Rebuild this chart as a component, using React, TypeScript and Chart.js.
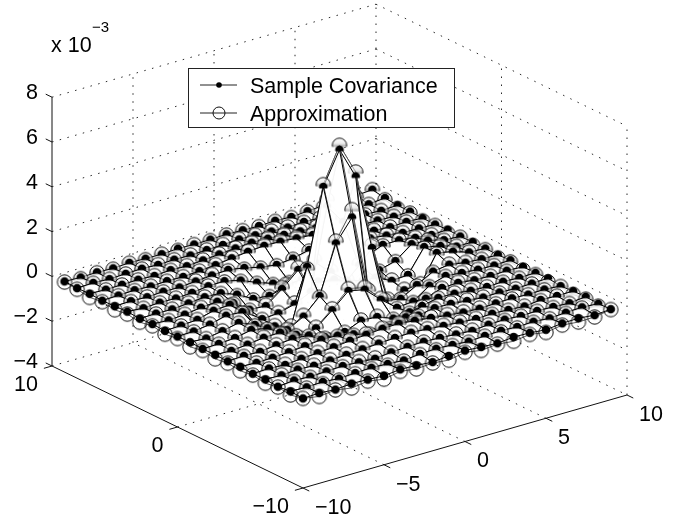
import React, { useEffect, useRef } from "react";
import { Chart, registerables } from "chart.js";

Chart.register(...registerables);

const gridX = [-10,-9,-8,-7,-6,-5,-4,-3,-2,-1,0,1,2,3,4,5,6,7,8,9];
const gridY = [-10,-9,-8,-7,-6,-5,-4,-3,-2,-1,0,1,2,3,4,5,6,7,8,9];
const xTicks = [-10,-5,0,5,10];
const yTicks = [-10,0,10];
const zTicks = [-4,-2,0,2,4,6,8];
const sampleLabel = "Sample Covariance";
const approxLabel = "Approximation";

// rows: y = -10 ... 9, columns: x = -10 ... 9 (units of 10^-3)
const sampleZ = [
[0,.03,-.02,.04,.01,-.03,.05,.02,-.04,.03,.06,.01,-.03,.04,.02,-.05,.03,.05,-.02,.04],
[.04,.02,.05,-.01,.03,.06,.02,-.03,.05,.08,.04,-.02,.03,.05,.01,.04,-.02,.03,.06,.01],
[-.02,.05,.01,.04,.07,.03,-.02,.06,.1,.12,.08,.03,-.02,.05,.07,.02,.04,.01,-.03,.05],
[.03,.01,.06,.02,.05,.09,.13,.18,.22,.25,.2,.14,.08,.03,.06,.02,-.03,.05,.02,.03],
[.01,.04,-.01,.06,.1,.16,.24,.3,.36,.38,.3,.22,.12,.05,.01,.04,.06,.02,.04,-.02],
[.05,.02,.04,.08,.14,.22,.2,.05,-.12,-.2,-.1,.06,.18,.16,.08,.03,.05,.01,.03,.06],
[.02,.06,.03,.12,.2,.14,-.15,-.45,-.62,-.68,-.55,-.3,0,.16,.14,.06,.02,.05,.01,.03],
[.04,.01,.08,.18,.2,-.1,-.5,-.72,-.6,-.3,-.35,-.62,-.55,-.15,.12,.14,.05,.03,.06,.02],
[.03,.05,.1,.25,.12,-.3,-.7,-.5,.1,.75,.6,-.05,-.62,-.55,-.05,.18,.1,.04,.02,.05],
[.06,.02,.14,.3,0,-.5,-.65,-.25,.46,2.6,3.55,-.1,-.6,-.7,-.3,.1,.2,.08,.03,.01],
[.04,.06,.16,.35,.3,-.6,-.75,-1,1.5,4.85,6.3,4.9,1.5,-1.1,-.8,-.77,.45,.3,.06,.03],
[.02,.05,.1,.3,.35,-.2,-.7,-.65,-.45,-.1,3.5,2.6,.46,-.3,-.65,-.6,.44,.28,.05,.04],
[.05,.01,.06,.16,.22,-.05,-.55,-.6,-.05,.6,.75,.1,-.5,-.7,-.45,-.25,.3,.25,.06,.02],
[.02,.04,.02,.08,.15,.12,-.15,-.55,-.62,-.35,-.3,-.6,-.72,-.5,-.1,.2,.2,.1,.02,.05],
[.06,.01,.05,.03,.07,.16,.18,0,-.3,-.55,-.68,-.62,-.45,-.15,.14,.22,.14,.05,.04,.01],
[.03,.05,.02,.06,.04,.1,.16,.2,.08,-.1,-.2,-.12,.05,.2,.24,.16,.08,.03,.06,.02],
[.01,.03,.06,.02,.05,.03,.08,.14,.24,.32,.38,.36,.3,.24,.14,.1,.05,.06,.02,.04],
[.04,.02,.03,.05,.01,.06,.03,.08,.14,.2,.25,.22,.18,.13,.09,.05,.03,.06,.01,.05],
[.02,.05,.01,.04,.06,.02,.05,.03,.06,.08,.12,.1,.06,.03,.07,.04,.01,.05,.03,.1],
[.05,.02,.04,.01,.05,.03,.02,.06,.04,.05,.08,.05,.03,.06,.02,.07,.12,.1,.15,.2],
];

const approxZ = [
[0,-.12,-.04,-.16,-.06,-.18,-.04,-.14,-.08,-.16,-.02,-.14,-.07,-.15,-.05,-.17,-.05,-.12,-.1,.02],
[-.12,-.02,-.03,-.08,0,.02,-.04,-.06,.02,.03,.01,-.05,.01,0,-.03,.01,-.04,-.01,.02,-.1],
[-.04,.01,-.02,.02,.04,.06,.02,.05,.08,.1,.06,.05,.01,.04,.03,.01,.02,-.02,-.05,-.06],
[-.14,.03,.02,.04,.08,.12,.16,.2,.24,.26,.22,.16,.1,.05,.03,0,-.02,.02,.01,-.12],
[-.05,.02,.02,.06,.13,.2,.28,.34,.38,.4,.34,.26,.16,.08,.04,.02,.03,.01,.02,-.04],
[-.13,.01,.03,.1,.18,.24,.16,0,-.16,-.24,-.14,.02,.16,.2,.12,.05,.02,0,.01,-.11],
[-.06,.03,.05,.14,.22,.1,-.2,-.5,-.68,-.72,-.6,-.34,-.04,.14,.17,.08,.03,.02,-.01,-.05],
[-.14,0,.09,.2,.16,-.15,-.55,-.76,-.62,-.28,-.32,-.66,-.6,-.2,.1,.16,.07,.02,.03,-.12],
[-.04,.03,.12,.24,.08,-.35,-.72,-.46,.16,.85,.7,0,-.66,-.6,-.1,.15,.12,.05,.01,-.03],
[-.15,.01,.15,.28,-.04,-.54,-.62,-.2,.4,2.7,3.9,.1,-.55,-.72,-.34,.06,.22,.09,.02,-.12],
[-.05,.04,.17,.32,.26,-.64,-.72,-.95,1.4,4.95,6.5,5.1,1.65,-1,-.76,-.72,.4,.32,.07,-.03],
[-.13,.03,.11,.28,.32,-.24,-.72,-.62,-.4,.05,3.8,2.75,.52,-.25,-.62,-.64,.4,.3,.06,-.11],
[-.03,0,.07,.17,.2,-.1,-.58,-.56,.02,.7,.85,.16,-.46,-.72,-.5,-.28,.26,.27,.05,-.02],
[-.14,.02,.03,.09,.16,.1,-.2,-.6,-.66,-.32,-.28,-.62,-.76,-.55,-.15,.16,.22,.11,.03,-.12],
[-.05,0,.04,.04,.08,.17,.14,-.04,-.34,-.6,-.72,-.68,-.5,-.2,.1,.22,.16,.06,.03,-.04],
[-.13,.03,.03,.05,.05,.12,.2,.16,.02,-.14,-.24,-.16,0,.16,.24,.18,.1,.04,.05,-.1],
[-.04,.02,.04,.03,.04,.04,.08,.16,.26,.34,.4,.38,.34,.28,.2,.13,.06,.05,.03,-.03],
[-.12,.01,.02,.04,.02,.05,.05,.1,.16,.22,.26,.24,.2,.16,.12,.08,.04,.04,.02,-.1],
[-.03,.03,0,.03,.04,.03,.04,.05,.07,.1,.13,.1,.08,.05,.05,.03,.02,.03,.02,.02],
[.02,-.04,.02,-.03,.03,-.02,.02,-.02,.03,0,.04,.03,0,.03,-.01,.04,.06,.06,.08,.2],
];

// view of the 3-D box onto the page plane
const view = { ox: 303, oy: 488, xx: 16.2, xy: -4.65, yx: -12.55, yy: -6.1, zy: 22.4 };
const project = (x: number, y: number, z: number) => ({
  x: view.ox + (x + 10) * view.xx + (y + 10) * view.yx,
  y: view.oy + (x + 10) * view.xy + (y + 10) * view.yy - (z + 4) * view.zy,
});

const FONT = '"Liberation Sans", Arial, sans-serif';
const FONT_SIZE = 21.5;
const PATCH_FILL = "rgba(255,255,255,0.8)";

// Markers poke half-way through the surface: the part below the centre is hidden.
function dotSprite(half: boolean) {
  const c = document.createElement("canvas");
  c.width = 12;
  c.height = 12;
  const g = c.getContext("2d") as CanvasRenderingContext2D;
  if (half) {
    g.beginPath();
    g.rect(0, 0, 12, 7.5);
    g.clip();
  }
  g.fillStyle = "#000";
  g.beginPath();
  g.arc(6, 6, 4.3, 0, Math.PI * 2);
  g.fill();
  return c;
}

function ringSprite(half: boolean) {
  const c = document.createElement("canvas");
  c.width = 18;
  c.height = 18;
  const g = c.getContext("2d") as CanvasRenderingContext2D;
  if (half) {
    g.beginPath();
    g.rect(0, 0, 18, 10.5);
    g.clip();
    const grad = g.createLinearGradient(0, 2, 0, 10.5);
    grad.addColorStop(0, "rgba(255,255,255,0.6)");
    grad.addColorStop(0.6, "rgba(225,225,225,0.6)");
    grad.addColorStop(1, "rgba(110,110,110,0.65)");
    g.fillStyle = grad;
    g.beginPath();
    g.arc(9, 9, 7, 0, Math.PI * 2);
    g.fill();
  }
  g.strokeStyle = "#111";
  g.lineWidth = 1;
  g.beginPath();
  g.arc(9, 9, 7.2, 0, Math.PI * 2);
  g.stroke();
  return c;
}

function buildDatasets() {
  const dotHalf = dotSprite(true);
  const dotFull = dotSprite(false);
  const ringHalf = ringSprite(true);
  const ringFull = ringSprite(false);

  const cells: { i: number; j: number }[] = [];
  for (let j = 0; j < gridY.length - 1; j++) for (let i = 0; i < gridX.length - 1; i++) cells.push({ i, j });
  cells.sort((a, b) => b.i + b.j - (a.i + a.j) || a.i - b.i);

  const total = cells.length * 2 + 4;
  const sets: any[] = [];
  const cell = (z: number[][], i: number, j: number) => {
    const P = (a: number, b: number) => project(gridX[a], gridY[b], z[b][a]);
    return [P(i, j), P(i + 1, j), P(i + 1, j + 1), P(i, j + 1), P(i, j)];
  };
  const radii = [0, 0, 7, 0, 0];
  cells.forEach(({ i, j }, k) => {
    sets.push({
      data: cell(approxZ, i, j),
      showLine: true,
      fill: "shape",
      backgroundColor: PATCH_FILL,
      borderColor: "#5a5a5a",
      borderWidth: 1,
      tension: 0,
      order: total - 2 * k,
      pointRadius: radii,
      pointStyle: ringHalf,
    });
    sets.push({
      data: cell(sampleZ, i, j),
      showLine: true,
      fill: "shape",
      backgroundColor: PATCH_FILL,
      borderColor: "#000",
      borderWidth: 1,
      tension: 0,
      order: total - 2 * k - 1,
      pointRadius: radii,
      pointStyle: dotHalf,
    });
  });

  // the two near edges have no surface in front of them: whole markers
  const edge = (z: number[][]) => {
    const pts: { x: number; y: number }[] = [];
    gridX.forEach((x, i) => pts.push(project(x, gridY[0], z[0][i])));
    gridY.forEach((y, j) => {
      if (j > 0) pts.push(project(gridX[0], y, z[j][0]));
    });
    return pts;
  };
  sets.push({ data: edge(approxZ), showLine: false, order: 1, pointRadius: 7, pointStyle: ringFull });
  sets.push({ data: edge(sampleZ), showLine: false, order: 0, pointRadius: 4, pointStyle: dotFull });
  return sets;
}

const boxPlugin = {
  id: "box3d",
  beforeDatasetsDraw(chart: any) {
    const { ctx, scales } = chart;
    const px = (p: { x: number; y: number }) => ({ x: scales.x.getPixelForValue(p.x), y: scales.y.getPixelForValue(p.y) });
    const seg = (a: number[], b: number[]) => {
      const p = px(project(a[0], a[1], a[2]));
      const q = px(project(b[0], b[1], b[2]));
      ctx.beginPath();
      ctx.moveTo(p.x, p.y);
      ctx.lineTo(q.x, q.y);
      ctx.stroke();
    };
    ctx.save();
    // dotted grid
    ctx.strokeStyle = "#2a2a2a";
    ctx.lineWidth = 1;
    ctx.setLineDash([1.5, 6.5]);
    zTicks.forEach((z) => {
      seg([-10, 10, z], [10, 10, z]);
      seg([10, 10, z], [10, -10, z]);
    });
    xTicks.forEach((x) => {
      if (x > -10) seg([x, 10, -4], [x, 10, 8]);
      if (x > -10 && x < 10) seg([x, -10, -4], [x, 10, -4]);
    });
    yTicks.forEach((y) => {
      if (y < 10) seg([10, y, -4], [10, y, 8]);
      if (y > -10 && y < 10) seg([-10, y, -4], [10, y, -4]);
    });
    // solid axes and ticks
    ctx.setLineDash([]);
    ctx.strokeStyle = "#111";
    seg([-10, 10, -4], [-10, 10, 8]);
    seg([-10, -10, -4], [10, -10, -4]);
    seg([-10, -10, -4], [-10, 10, -4]);
    xTicks.forEach((x) => seg([x, -10, -4], [x, -10.5, -4]));
    yTicks.forEach((y) => seg([-10, y, -4], [-10.5, y, -4]));
    zTicks.forEach((z) => seg([-10, 10, z], [-10, 10.5, z]));
    // tick labels
    ctx.fillStyle = "#000";
    ctx.font = `${FONT_SIZE}px ${FONT}`;
    ctx.textBaseline = "middle";
    const fmt = (v: number) => (v < 0 ? `\u2212${-v}` : `${v}`);
    ctx.textAlign = "left";
    xTicks.forEach((x) => {
      const p = px(project(x, -10, -4));
      ctx.fillText(fmt(x), p.x + 12, p.y + 20);
    });
    ctx.textAlign = "right";
    yTicks.forEach((y) => {
      const p = px(project(-10, y, -4));
      ctx.fillText(fmt(y), p.x - 14, p.y + 19);
    });
    zTicks.forEach((z) => {
      const p = px(project(-10, 10, z));
      ctx.fillText(fmt(z), p.x - 14, p.y - 4);
    });
    // multiplier
    ctx.textAlign = "left";
    ctx.textBaseline = "alphabetic";
    ctx.fillText("x 10", 51, 52);
    ctx.font = `15px ${FONT}`;
    ctx.fillText("\u22123", 92, 32);
    ctx.restore();
  },
  afterDatasetsDraw(chart: any) {
    const { ctx } = chart;
    ctx.save();
    ctx.fillStyle = "#fff";
    ctx.fillRect(188, 68, 266, 59);
    ctx.strokeStyle = "#222";
    ctx.lineWidth = 1;
    ctx.strokeRect(188.5, 68.5, 266, 59);
    const row = (y: number, label: string, marker: () => void) => {
      ctx.strokeStyle = "#222";
      ctx.beginPath();
      ctx.moveTo(200, y);
      ctx.lineTo(237, y);
      ctx.stroke();
      marker();
      ctx.fillStyle = "#000";
      ctx.font = `${FONT_SIZE}px ${FONT}`;
      ctx.textAlign = "left";
      ctx.textBaseline = "alphabetic";
      ctx.fillText(label, 250, y + 8);
    };
    row(85, sampleLabel, () => {
      ctx.fillStyle = "#000";
      ctx.beginPath();
      ctx.arc(219, 85, 2.8, 0, Math.PI * 2);
      ctx.fill();
    });
    row(113, approxLabel, () => {
      ctx.strokeStyle = "#111";
      ctx.beginPath();
      ctx.arc(219, 113, 6, 0, Math.PI * 2);
      ctx.stroke();
    });
    ctx.restore();
  },
};

export default function App() {
  const ref = useRef<HTMLCanvasElement>(null);
  useEffect(() => {
    const chart = new Chart(ref.current as HTMLCanvasElement, {
      type: "scatter",
      data: { datasets: buildDatasets() },
      options: {
        animation: false,
        responsive: false,
        devicePixelRatio: 1,
        layout: { padding: 0, autoPadding: false },
        events: [],
        scales: {
          x: { type: "linear", display: false, min: 0, max: 686 },
          y: { type: "linear", display: false, min: 0, max: 523, reverse: true },
        },
        plugins: { legend: { display: false }, tooltip: { enabled: false }, title: { display: false } },
      },
      plugins: [boxPlugin],
    } as any);
    return () => chart.destroy();
  }, []);
  return (
    <div style={{ position: "fixed", left: 0, top: 0, width: 686, height: 523, background: "#fff" }}>
      <canvas ref={ref} width={686} height={523} style={{ display: "block", filter: "blur(0.35px)" }} />
    </div>
  );
}
